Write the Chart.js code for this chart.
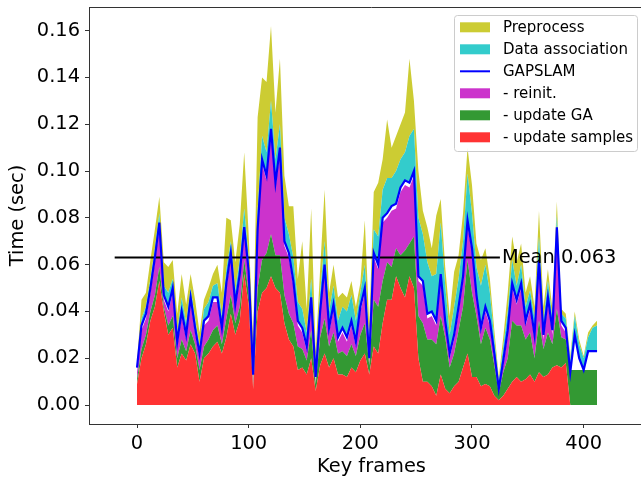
<!DOCTYPE html>
<html>
<head>
<meta charset="utf-8">
<script src="https://cdn.jsdelivr.net/npm/chart.js@4"></script>
<style>
  html, body { margin: 0; padding: 0; overflow: hidden; background: #fff; }
  #wrap { width: 660px; height: 479px; }
</style>
</head>
<body>
<div id="wrap"><canvas id="timingChart"></canvas></div>
<script>
// Key frames (every 4th frame)
const frames = [
  0, 4, 8, 12, 16, 20, 24, 28, 32, 36,
  40, 44, 48, 52, 56, 60, 64, 68, 72, 76,
  80, 84, 88, 92, 96, 100, 104, 108, 112, 116,
  120, 124, 128, 132, 136, 140, 144, 148, 152, 156,
  160, 164, 168, 172, 176, 180, 184, 188, 192, 196,
  200, 204, 208, 212, 216, 220, 224, 228, 232, 236,
  240, 244, 248, 252, 256, 260, 264, 268, 272, 276,
  280, 284, 288, 292, 296, 300, 304, 308, 312, 316,
  320, 324, 328, 332, 336, 340, 344, 348, 352, 356,
  360, 364, 368, 372, 376, 380, 384, 388, 392, 396,
  400, 404, 408, 412
];

// stacked parts of GAPSLAM (sec)
const updateSamples = [
  .009, .020, .026, .036, .042, .053, .040, .030, .033, .016,
  .022, .019, .026, .022, .010, .020, .022, .025, .027, .022,
  .029, .039, .030, .036, .056, .043, .007, .040, .048, .050,
  .055, .050, .048, .035, .028, .025, .015, .016, .013, .020,
  .006, .017, .022, .016, .020, .013, .013, .012, .016, .014,
  .019, .022, .013, .025, .022, .035, .045, .045, .055, .050,
  .046, .055, .050, .020, .010, .010, .008, .004, .013, .007,
  .005, .008, .010, .016, .022, .012, .012, .008, .009, .008,
  .004, .002, .004, .007, .010, .012, .010, .011, .013, .010,
  .014, .012, .013, .016, .017, .016, .018, 0, 0, 0,
  0, 0, 0, 0
];
const updateGA = [
  .002, .004, .004, .004, .005, .006, .002, .004, .005, .004,
  .006, .004, .006, .004, .005, .005, .006, .007, .007, .004,
  .008, .008, .005, .006, .006, .005, .002, .010, .014, .015,
  .018, .014, .016, .012, .011, .010, .010, .008, .006, .012,
  .003, .012, .015, .009, .011, .009, .010, .009, .010, .007,
  .011, .013, .004, .020, .020, .018, .016, .014, .012, .014,
  .020, .014, .022, .018, .025, .018, .020, .022, .025, .022,
  .011, .014, .022, .026, .040, .036, .026, .018, .024, .020,
  .013, .003, .010, .013, .026, .022, .024, .017, .018, .010,
  .022, .012, .018, .010, .024, .013, .010, .015, .015, .015,
  .015, .015, .015, .015
];
const reinit = [
  .003, .008, .007, .008, .014, .017, .003, .006, .010, .005,
  .010, .005, .012, .005, .005, .009, .008, .012, .010, .005,
  .013, .016, .006, .012, .012, .007, .002, .023, .041, .031,
  .043, .029, .044, .021, .024, .016, .009, .007, .004, .012,
  .001, .009, .021, .006, .010, .005, .008, .006, .008, .004,
  .010, .013, .001, .018, .016, .025, .019, .024, .017, .027,
  .028, .024, .026, .015, .016, .009, .010, .008, .016, .005,
  .004, .006, .008, .011, .015, .017, .007, .005, .007, .006,
  .003, .001, .003, .010, .014, .009, .016, .006, .010, .008,
  .024, .004, .013, .004, .033, .005, .003, 0, 0, 0,
  0, 0, 0, 0
];
// GAPSLAM total (blue line)
const gapslam = [
  .016, .034, .039, .050, .063, .078, .047, .042, .050, .027,
  .040, .030, .046, .033, .022, .036, .038, .046, .046, .033,
  .052, .065, .043, .056, .076, .057, .013, .075, .105, .098,
  .118, .095, .110, .070, .065, .053, .036, .033, .025, .046,
  .012, .040, .060, .033, .043, .029, .033, .029, .036, .027,
  .042, .050, .020, .065, .060, .080, .082, .085, .086, .093,
  .096, .095, .100, .055, .053, .039, .040, .036, .056, .036,
  .022, .030, .042, .055, .079, .067, .047, .033, .042, .036,
  .022, .007, .019, .032, .052, .045, .052, .036, .043, .030,
  .062, .030, .046, .032, .076, .036, .033, .014, .030, .020,
  .015, .023, .023, .023
];
// stacked on top of GAPSLAM
const dataAssoc = [
  .001, .003, .003, .004, .004, .004, .004, .006, .004, .004,
  .006, .005, .004, .004, .003, .005, .006, .005, .006, .005,
  .006, .005, .006, .006, .008, .006, .005, .008, .010, .010,
  .012, .010, .010, .010, .008, .010, .008, .008, .006, .008,
  .005, .008, .010, .007, .008, .007, .009, .011, .011, .009,
  .006, .010, .006, .010, .012, .012, .015, .012, .014, .012,
  .012, .020, .018, .025, .020, .022, .015, .020, .022, .015,
  .008, .012, .012, .015, .020, .015, .012, .018, .018, .012,
  .006, .003, .006, .008, .010, .006, .008, .006, .006, .007,
  .010, .006, .007, .005, .005, .003, .004, .005, .008, .006,
  .005, .006, .010, .011
];
const preprocess = [
  .001, .008, .006, .008, .008, .007, .010, .011, .008, .008,
  .010, .008, .006, .008, .006, .004, .006, .005, .008, .010,
  .022, .009, .012, .015, .024, .010, .010, .040, .025, .030,
  .032, .020, .028, .018, .012, .022, .010, .029, .010, .030,
  .006, .010, .022, .008, .009, .010, .006, .006, .006, .006,
  .004, .019, .008, .016, .023, .013, .025, .013, .015, .015,
  .017, .033, .012, .020, .010, .015, .012, .025, .010, .008,
  .008, .015, .010, .012, .011, .012, .010, .011, .007, .006,
  .004, .002, .004, .008, .010, .010, .009, .006, .006, .005,
  .011, .006, .005, .004, .006, .002, .002, .002, .002, .002,
  .001, .002, .001, .002
];

const meanValue = 0.063;
const meanSpan = [-20, 325];
const xTicks = [0, 100, 200, 300, 400];
const yTicks = [0, 0.02, 0.04, 0.06, 0.08, 0.10, 0.12, 0.14, 0.16];

const pts = arr => frames.map((f, i) => ({ x: f, y: arr[i] }));

function area(label, values, color, stack, fill) {
  return {
    label: label,
    data: pts(values),
    stack: stack,
    fill: fill,
    backgroundColor: color,
    borderWidth: 0,
    pointRadius: 0,
    order: 2
  };
}

Chart.defaults.font.family = "'DejaVu Sans', sans-serif";
Chart.defaults.color = '#000';

// legend box, top spine and mean label
const extras = {
  id: 'extras',
  afterDraw(chart) {
    const ctx = chart.ctx;
    const area = chart.chartArea;
    ctx.save();
    ctx.strokeStyle = '#333';
    ctx.lineWidth = 1;
    ctx.beginPath();
    ctx.moveTo(area.left, area.top + 0.5);
    ctx.lineTo(area.right, area.top + 0.5);
    ctx.stroke();

    const sx = chart.scales.x, sy = chart.scales.y;
    ctx.fillStyle = '#000';
    ctx.font = "19.4px 'DejaVu Sans'";
    ctx.textAlign = 'left';
    ctx.textBaseline = 'middle';
    ctx.fillText('Mean ' + meanValue.toFixed(3), sx.getPixelForValue(meanSpan[1]) + 2, sy.getPixelForValue(meanValue));

    // legend
    ctx.fillStyle = 'rgba(255,255,255,0.8)';
    ctx.strokeStyle = '#cccccc';
    ctx.beginPath();
    ctx.roundRect(454.5, 15.5, 183, 136, 3);
    ctx.fill();
    ctx.stroke();
    const ds = chart.data.datasets;
    const order = [5, 4, 3, 2, 1, 0];
    ctx.font = "15px 'DejaVu Sans'";
    order.forEach((k, i) => {
      const y = 27.3 + i * 22;
      const d = ds[k];
      if (d.fill === false) {
        ctx.strokeStyle = d.borderColor;
        ctx.lineWidth = 2;
        ctx.beginPath();
        ctx.moveTo(460, y);
        ctx.lineTo(490, y);
        ctx.stroke();
      } else {
        ctx.fillStyle = d.backgroundColor;
        ctx.fillRect(460, y - 5, 30, 10);
      }
      ctx.fillStyle = '#000';
      ctx.fillText(d.label, 503, y + 1);
    });
    ctx.restore();
  }
};

const ctx = document.getElementById('timingChart').getContext('2d');
window._timingChart = new Chart(ctx, {
  type: 'line',
  data: {
    datasets: [
      area('- update samples', updateSamples, 'rgb(255,51,51)', 'parts', 'origin'),
      area('- update GA', updateGA, 'rgb(51,153,51)', 'parts', '-1'),
      area('- reinit.', reinit, 'rgb(204,51,204)', 'parts', '-1'),
      {
        label: 'GAPSLAM',
        data: pts(gapslam),
        stack: 'total',
        fill: false,
        borderColor: '#0000ff',
        borderWidth: 2.2,
        pointRadius: 0,
        order: 0
      },
      area('Data association', dataAssoc, 'rgb(51,204,204)', 'total', '-1'),
      area('Preprocess', preprocess, 'rgb(204,204,51)', 'total', '-1'),
      {
        label: 'Mean',
        data: meanSpan.map(x => ({ x: x, y: meanValue })),
        stack: 'mean',
        fill: false,
        borderColor: '#000',
        borderWidth: 2,
        pointRadius: 0,
        order: 0
      }
    ]
  },
  options: {
    responsive: true,
    maintainAspectRatio: false,
    animation: false,
    devicePixelRatio: 1,
    layout: { padding: { top: 7, right: 6, left: 0, bottom: 0 } },
    elements: { line: { tension: 0 } },
    plugins: {
      legend: { display: false },
      tooltip: { enabled: false }
    },
    scales: {
      x: {
        type: 'linear',
        min: -43,
        max: 463,
        afterBuildTicks: s => { s.ticks = xTicks.map(v => ({ value: v })); },
        afterFit: s => { s.height = 55; s.paddingLeft = 0; s.paddingRight = 0; },
        ticks: { autoSkip: false, maxRotation: 0, padding: 4, font: { size: 19.4 } },
        grid: { drawOnChartArea: false, tickLength: 4, color: '#333' },
        border: { color: '#333', width: 1 },
        title: { display: true, text: 'Key frames', font: { size: 19.4 }, padding: { top: 0, bottom: 0 } }
      },
      y: {
        type: 'linear',
        stacked: true,
        min: -0.0081,
        max: 0.1701,
        afterBuildTicks: s => { s.ticks = yTicks.map(v => ({ value: v })); },
        afterFit: s => { s.width = 89; s.paddingTop = 0; s.paddingBottom = 0; },
        ticks: { padding: 5, font: { size: 19.4 }, callback: v => v.toFixed(2) },
        grid: { drawOnChartArea: false, tickLength: 4, color: '#333' },
        border: { color: '#333', width: 1 },
        title: { display: true, text: 'Time (sec)', font: { size: 19.4 }, padding: { top: 6, bottom: 0 } }
      }
    }
  },
  plugins: [extras]
});
</script>
</body>
</html>
